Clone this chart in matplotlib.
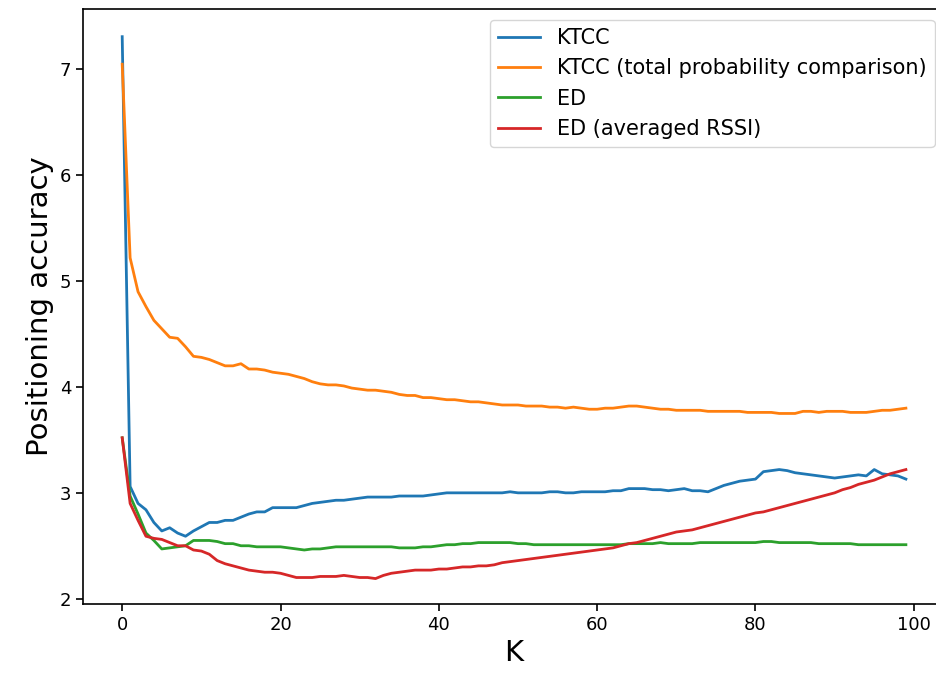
import matplotlib
matplotlib.use("Agg")
import matplotlib.pyplot as plt

# K values 0..99
k_values = list(range(100))

ktcc = [7.31, 3.06, 2.90, 2.84, 2.72, 2.64, 2.67, 2.62, 2.59, 2.64,
        2.68, 2.72, 2.72, 2.74, 2.74, 2.77, 2.80, 2.82, 2.82, 2.86,
        2.86, 2.86, 2.86, 2.88, 2.90, 2.91, 2.92, 2.93, 2.93, 2.94,
        2.95, 2.96, 2.96, 2.96, 2.96, 2.97, 2.97, 2.97, 2.97, 2.98,
        2.99, 3.00, 3.00, 3.00, 3.00, 3.00, 3.00, 3.00, 3.00, 3.01,
        3.00, 3.00, 3.00, 3.00, 3.01, 3.01, 3.00, 3.00, 3.01, 3.01,
        3.01, 3.01, 3.02, 3.02, 3.04, 3.04, 3.04, 3.03, 3.03, 3.02,
        3.03, 3.04, 3.02, 3.02, 3.01, 3.04, 3.07, 3.09, 3.11, 3.12,
        3.13, 3.20, 3.21, 3.22, 3.21, 3.19, 3.18, 3.17, 3.16, 3.15,
        3.14, 3.15, 3.16, 3.17, 3.16, 3.22, 3.18, 3.17, 3.16, 3.13]

ktcc_total = [7.05, 5.22, 4.90, 4.76, 4.63, 4.55, 4.47, 4.46, 4.38, 4.29,
              4.28, 4.26, 4.23, 4.20, 4.20, 4.22, 4.17, 4.17, 4.16, 4.14,
              4.13, 4.12, 4.10, 4.08, 4.05, 4.03, 4.02, 4.02, 4.01, 3.99,
              3.98, 3.97, 3.97, 3.96, 3.95, 3.93, 3.92, 3.92, 3.90, 3.90,
              3.89, 3.88, 3.88, 3.87, 3.86, 3.86, 3.85, 3.84, 3.83, 3.83,
              3.83, 3.82, 3.82, 3.82, 3.81, 3.81, 3.80, 3.81, 3.80, 3.79,
              3.79, 3.80, 3.80, 3.81, 3.82, 3.82, 3.81, 3.80, 3.79, 3.79,
              3.78, 3.78, 3.78, 3.78, 3.77, 3.77, 3.77, 3.77, 3.77, 3.76,
              3.76, 3.76, 3.76, 3.75, 3.75, 3.75, 3.77, 3.77, 3.76, 3.77,
              3.77, 3.77, 3.76, 3.76, 3.76, 3.77, 3.78, 3.78, 3.79, 3.80]

ed = [3.52, 2.97, 2.80, 2.62, 2.55, 2.47, 2.48, 2.49, 2.50, 2.55,
      2.55, 2.55, 2.54, 2.52, 2.52, 2.50, 2.50, 2.49, 2.49, 2.49,
      2.49, 2.48, 2.47, 2.46, 2.47, 2.47, 2.48, 2.49, 2.49, 2.49,
      2.49, 2.49, 2.49, 2.49, 2.49, 2.48, 2.48, 2.48, 2.49, 2.49,
      2.50, 2.51, 2.51, 2.52, 2.52, 2.53, 2.53, 2.53, 2.53, 2.53,
      2.52, 2.52, 2.51, 2.51, 2.51, 2.51, 2.51, 2.51, 2.51, 2.51,
      2.51, 2.51, 2.51, 2.51, 2.52, 2.52, 2.52, 2.52, 2.53, 2.52,
      2.52, 2.52, 2.52, 2.53, 2.53, 2.53, 2.53, 2.53, 2.53, 2.53,
      2.53, 2.54, 2.54, 2.53, 2.53, 2.53, 2.53, 2.53, 2.52, 2.52,
      2.52, 2.52, 2.52, 2.51, 2.51, 2.51, 2.51, 2.51, 2.51, 2.51]

ed_avg = [3.52, 2.90, 2.74, 2.59, 2.57, 2.56, 2.53, 2.50, 2.50, 2.46,
          2.45, 2.42, 2.36, 2.33, 2.31, 2.29, 2.27, 2.26, 2.25, 2.25,
          2.24, 2.22, 2.20, 2.20, 2.20, 2.21, 2.21, 2.21, 2.22, 2.21,
          2.20, 2.20, 2.19, 2.22, 2.24, 2.25, 2.26, 2.27, 2.27, 2.27,
          2.28, 2.28, 2.29, 2.30, 2.30, 2.31, 2.31, 2.32, 2.34, 2.35,
          2.36, 2.37, 2.38, 2.39, 2.40, 2.41, 2.42, 2.43, 2.44, 2.45,
          2.46, 2.47, 2.48, 2.50, 2.52, 2.53, 2.55, 2.57, 2.59, 2.61,
          2.63, 2.64, 2.65, 2.67, 2.69, 2.71, 2.73, 2.75, 2.77, 2.79,
          2.81, 2.82, 2.84, 2.86, 2.88, 2.90, 2.92, 2.94, 2.96, 2.98,
          3.00, 3.03, 3.05, 3.08, 3.10, 3.12, 3.15, 3.18, 3.20, 3.22]

series_labels = ["KTCC", "KTCC (total probability comparison)", "ED", "ED (averaged RSSI)"]

fig = plt.figure(figsize=(9.36, 6.79), dpi=100)
ax = fig.add_axes([0.0887, 0.1105, 0.921, 0.876])

for values, label in zip([ktcc, ktcc_total, ed, ed_avg], series_labels):
    ax.plot(k_values, values, label=label, linewidth=2)

ax.set_xlim(-4.95, 103.95)
ax.set_ylim(1.95, 7.57)
ax.set_xticks([0, 20, 40, 60, 80, 100])
ax.tick_params(labelsize=13, length=5, width=1.2)
ax.set_xlabel("K", fontsize=21)
ax.set_ylabel("Positioning accuracy", fontsize=21)
for spine in ax.spines.values():
    spine.set_linewidth(1.2)
ax.legend(loc="upper right", fontsize=15)

fig.savefig("out.png", dpi=100)
